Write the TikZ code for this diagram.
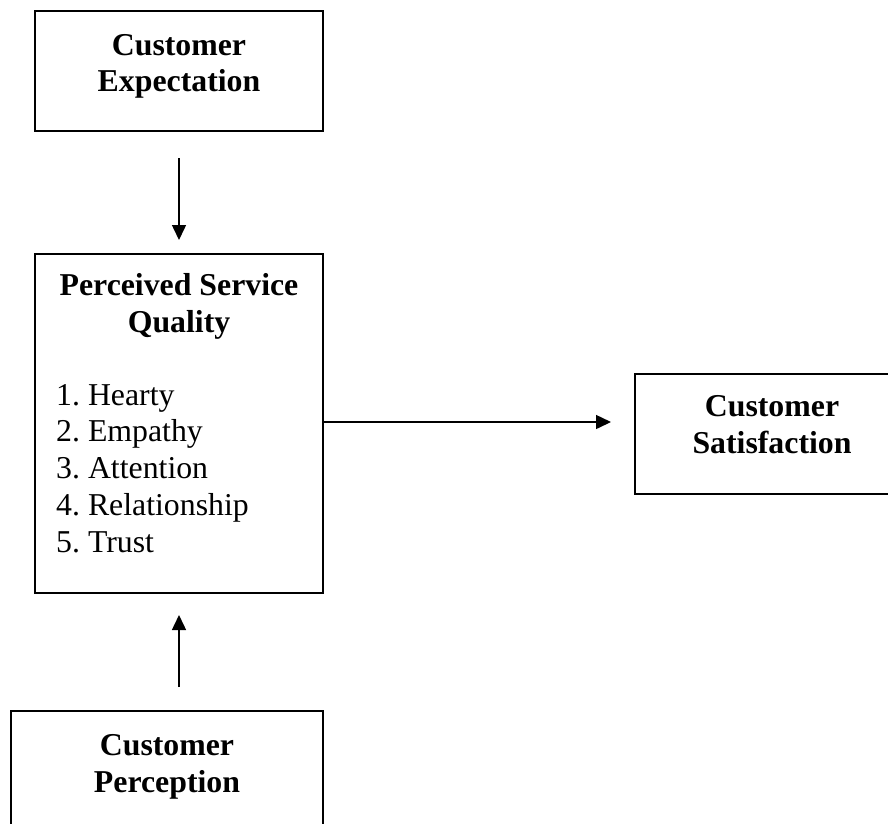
\documentclass[tikz,border=0pt]{standalone}
\usepackage{fontspec}
\setmainfont{Liberation Serif}
\usetikzlibrary{arrows.meta,calc}
\frenchspacing
\begin{document}
\begin{tikzpicture}[x=1pt,y=-1pt,
  box/.style={draw,line width=1.8pt,inner sep=0pt,outer sep=0pt,anchor=north west},
  title/.style={font=\fontsize{31.8}{36.7}\selectfont\bfseries,align=center,anchor=base,inner sep=0pt},
  listtxt/.style={font=\fontsize{31.8}{36.7}\selectfont,align=left,anchor=base west,inner sep=0pt},
  arr/.style={line width=1.5pt,-{Triangle[length=15pt,width=14pt]}}]
\path[use as bounding box,fill=white] (0,0) rectangle (888,823);
\clip (0,0) rectangle (888,823);
% boxes
\node[box,minimum width=288pt,minimum height=120pt] (e) at (35,11) {};
\node[box,minimum width=288pt,minimum height=339pt] (p) at (35,254) {};
\node[box,minimum width=274pt,minimum height=120pt] (s) at (635,374) {};
\node[box,minimum width=312pt,minimum height=120pt] (c) at (11,711) {};
% texts (anchor = baseline of the last line)
\node[title] (et) at (179,91.7) {Customer\\Expectation};
\node[title] (pt) at (179,332.5) {Perceived Service\\Quality};
\node[listtxt] (pl) at (56,552) {1. Hearty\\2. Empathy\\3. Attention\\4. Relationship\\5. Trust};
\node[title] (st) at (772,453.5) {Customer\\Satisfaction};
\node[title] (ct) at (167,792.5) {Customer\\Perception};
% connectors
\coordinate (pe) at ($(p.north east)+(0,168)$);
\draw[arr,shorten <=27pt,shorten >=14pt] (e.south) -- (p.north);
\draw[arr,shorten >=24pt] (pe) -- (pe -| s.west);
\draw[arr,shorten <=24pt,shorten >=22pt] (p.south |- c.north) -- (p.south);
\end{tikzpicture}
\end{document}
